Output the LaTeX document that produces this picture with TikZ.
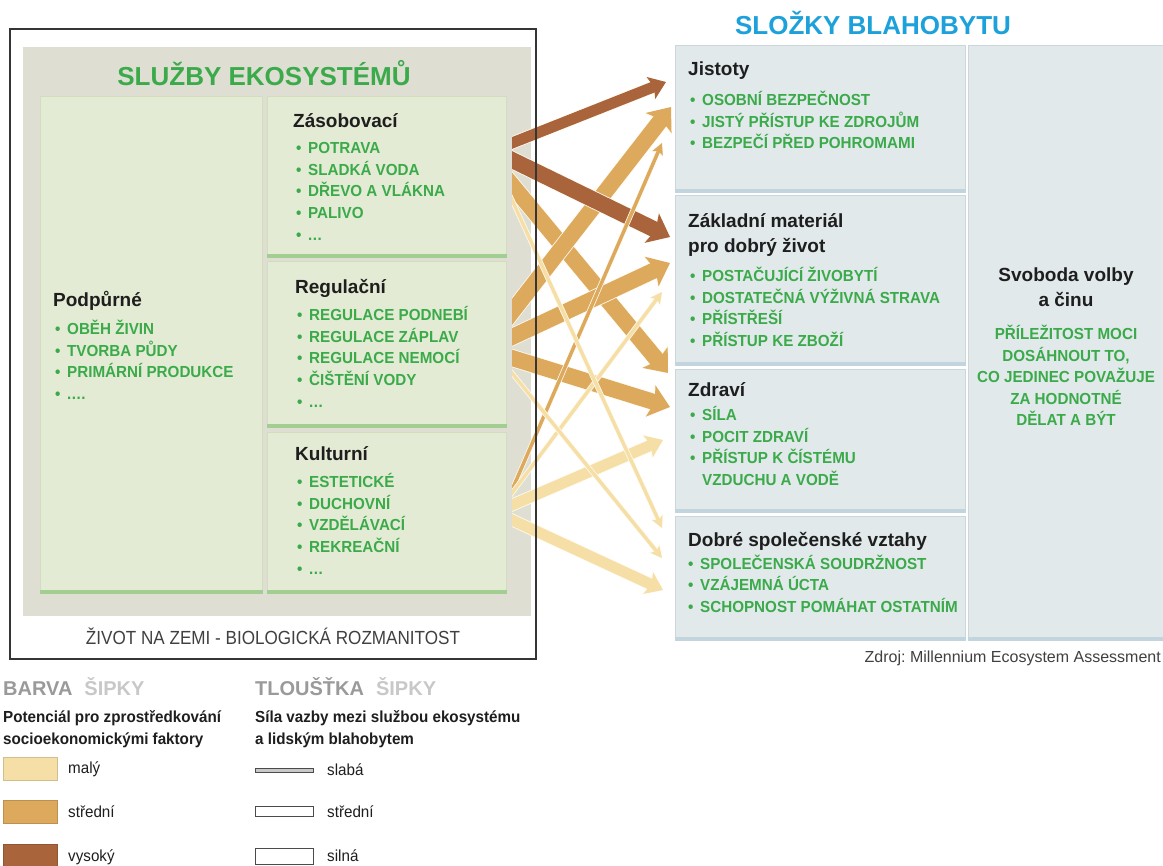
\documentclass[tikz,border=0pt]{standalone}
\usepackage{fontspec}
\setmainfont{Liberation Sans}
\newfontfamily\cnd[FakeStretch=0.95]{Liberation Sans}
\newfontfamily\cndn[FakeStretch=0.9]{Liberation Sans}
\usetikzlibrary{arrows.meta}
\definecolor{grn}{HTML}{3BAA4A}
\definecolor{blu}{HTML}{1DA1DB}
\definecolor{panelc}{HTML}{DFDED3}
\definecolor{lbox}{HTML}{E3EBD4}
\definecolor{lboxedge}{HTML}{D2DDBE}
\definecolor{lboxb}{HTML}{A2CE91}
\definecolor{rbox}{HTML}{E1E9EA}
\definecolor{rboxedge}{HTML}{CBD7DC}
\definecolor{rboxb}{HTML}{C2D4DD}
\definecolor{aLow}{HTML}{F5DFA6}
\definecolor{aMid}{HTML}{DDA95D}
\definecolor{aHigh}{HTML}{A9643B}
\definecolor{halo}{HTML}{FFFBF0}
\definecolor{txt}{HTML}{1E1E1E}
\definecolor{gA}{HTML}{9A9A9A}
\definecolor{gB}{HTML}{C8C8C8}
\frenchspacing
\newcommand\bul{\makebox[12pt][l]{\textbullet}}
\newcommand\tridot{.\kern0.5pt.\kern0.5pt.}
\newcommand\quadot{.\kern0.5pt.\kern0.5pt.\kern0.5pt.}
\newcommand\mylist[4]{\foreach \t [count=\i] in {#4} {\node[gitem] (#1-\i) at (#2,{#3+(\i-1)*21.6}) {\bul\t};}}
\begin{document}
\begin{tikzpicture}[x=1pt,y=-1pt,
  lboxst/.style={draw=lboxedge, line width=0.8pt, fill=lbox, anchor=north west, inner sep=0pt},
  rboxst/.style={draw=rboxedge, line width=0.8pt, fill=rbox, anchor=north west, inner sep=0pt},
  bigtitle/.style={font=\bfseries\fontsize{26}{30}\selectfont, inner sep=0pt},
  btitle/.style={anchor=west, inner sep=0pt, font=\bfseries\fontsize{19}{23}\selectfont, text=txt, text height=13.6pt, text depth=0pt},
  gitem/.style={anchor=west, inner sep=0pt, font=\cnd\bfseries\fontsize{16}{19}\selectfont, text=grn, text height=11.5pt, text depth=0pt},
  gcent/.style={gitem, anchor=center},
  legtxt/.style={anchor=west, inner sep=0pt, font=\cnd\fontsize{16}{19}\selectfont, text=txt, text height=11.5pt, text depth=0pt},
  legbold/.style={anchor=west, inner sep=0pt, font=\cnd\bfseries\fontsize{16}{19}\selectfont, text=txt, text height=11.5pt, text depth=0pt},
  swatch/.style={minimum width=54pt, minimum height=23pt, inner sep=0pt, draw=#1!85!black, line width=0.6pt, fill=#1},
  strong/.style={draw=#1, line width=16pt, shorten <=-16pt,
     preaction={draw=halo, line width=17.6pt, shorten <=-16pt, -{Stealth[length=21.5pt, width=35pt, inset=4pt]}},
     -{Stealth[length=20pt, width=32pt, inset=4pt]}},
  medium/.style={draw=#1, line width=11pt, shorten <=-16pt,
     preaction={draw=halo, line width=12.6pt, shorten <=-16pt, -{Stealth[length=17.5pt, width=26pt, inset=3pt]}},
     -{Stealth[length=16pt, width=23pt, inset=3pt]}},
  weak/.style={draw=#1, line width=3.5pt, shorten <=-16pt,
     preaction={draw=halo, line width=5pt, shorten <=-16pt, -{Stealth[length=12.5pt, width=14pt, inset=2pt]}},
     -{Stealth[length=11pt, width=11pt, inset=2pt]}}
]
\useasboundingbox (0,0) rectangle (1163,866);
\fill[white] (0,0) rectangle (1163,866);

% ---------- left panel ----------
\node[fill=panelc, anchor=north west, inner sep=0pt, minimum width=508pt, minimum height=569pt] (panel) at (23,47) {};
\node[bigtitle, text=grn] (t1) at (264,73) {SLUŽBY EKOSYSTÉMŮ};

\node[lboxst, minimum width=222pt, minimum height=497pt] (podp) at (40,96) {};
\node[lboxst, minimum width=239pt, minimum height=161pt] (zas) at (267,96) {};
\node[lboxst, minimum width=239pt, minimum height=166pt] (reg) at (267,261) {};
\node[lboxst, minimum width=239pt, minimum height=161pt] (kult) at (267,432) {};
\foreach \b in {podp,zas,reg,kult}{
  \draw[lboxb, line width=3.5pt] ([yshift=1.75pt]\b.south west) -- ([yshift=1.75pt]\b.south east);
}

\node[btitle] (podpT) at (53,300) {Podpůrné};
\mylist{podpL}{55}{329}{OBĚH ŽIVIN,TVORBA PŮDY,PRIMÁRNÍ PRODUKCE,\quadot}
\node[btitle] (zasT) at (293,121) {Zásobovací};
\mylist{zasL}{296}{148}{POTRAVA,SLADKÁ VODA,DŘEVO A VLÁKNA,PALIVO,\tridot}
\node[btitle] (regT) at (295,287) {Regulační};
\mylist{regL}{297}{315}{REGULACE PODNEBÍ,REGULACE ZÁPLAV,REGULACE NEMOCÍ,ČIŠTĚNÍ VODY,\tridot}
\node[btitle] (kultT) at (295,454) {Kulturní};
\mylist{kultL}{297}{482}{ESTETICKÉ,DUCHOVNÍ,VZDĚLÁVACÍ,REKREAČNÍ,\tridot}

\node[anchor=center, inner sep=0pt, font=\cndn\fontsize{19}{22}\selectfont, text=txt!85] (life) at (273,636) {ŽIVOT NA ZEMI - BIOLOGICKÁ ROZMANITOST};

% ---------- right side ----------
\node[bigtitle, text=blu] (t2) at (873,23) {SLOŽKY BLAHOBYTU};
\node[rboxst, minimum width=290pt, minimum height=147pt] (jist) at (675,45) {};
\node[rboxst, minimum width=290pt, minimum height=170pt] (zakl) at (675,195) {};
\node[rboxst, minimum width=290pt, minimum height=143pt] (zdr) at (675,369) {};
\node[rboxst, minimum width=290pt, minimum height=124pt] (dob) at (675,516) {};
\node[rboxst, minimum width=196pt, minimum height=595pt] (svob) at (968,45) {};
\foreach \b in {jist,zakl,zdr,dob,svob}{
  \draw[rboxb, line width=4pt] ([yshift=2pt]\b.south west) -- ([yshift=2pt]\b.south east);
}

\node[btitle] (jistT) at (688,68.5) {Jistoty};
\mylist{jistL}{690}{100}{OSOBNÍ BEZPEČNOST,JISTÝ PŘÍSTUP KE ZDROJŮM,BEZPEČÍ PŘED POHROMAMI}
\node[btitle] (zaklT) at (688,220.5) {Základní materiál};
\node[btitle] (zaklT2) at (688,246) {pro dobrý život};
\mylist{zaklL}{690}{276}{POSTAČUJÍCÍ ŽIVOBYTÍ,DOSTATEČNÁ VÝŽIVNÁ STRAVA,PŘÍSTŘEŠÍ,PŘÍSTUP KE ZBOŽÍ}
\node[btitle] (zdrT) at (688,389.5) {Zdraví};
\mylist{zdrL}{690}{415}{SÍLA,POCIT ZDRAVÍ,PŘÍSTUP K ČÍSTÉMU}
\node[gitem] (zdrL-4) at (702,479.8) {VZDUCHU A VODĚ};
\node[btitle] (dobT) at (688,540) {Dobré společenské vztahy};
\mylist{dobL}{688}{563.5}{SPOLEČENSKÁ SOUDRŽNOST,VZÁJEMNÁ ÚCTA,SCHOPNOST POMÁHAT OSTATNÍM}

\node[btitle, anchor=center] (svobT) at (1066,274.5) {Svoboda volby};
\node[btitle, anchor=center] (svobT2) at (1066,300) {a činu};
\node[gcent] (svob1) at (1066,334) {PŘÍLEŽITOST MOCI};
\node[gcent] (svob2) at (1066,355.5) {DOSÁHNOUT TO,};
\node[gcent] (svob3) at (1066,377) {CO JEDINEC POVAŽUJE};
\node[gcent] (svob4) at (1066,398.5) {ZA HODNOTNÉ};
\node[gcent] (svob5) at (1066,420) {DĚLAT A BÝT};

\node[anchor=east, inner sep=0pt, font=\fontsize{16}{19}\selectfont, text=txt!85, text height=11.8pt, text depth=0pt] (src) at (1161,657) {Zdroj: Millennium Ecosystem Assessment};

% ---------- arrows ----------
\coordinate (s1) at (512,143);  \coordinate (e1) at (666,82);
\coordinate (s2) at (512,160);  \coordinate (e2) at (670,237);
\coordinate (s3) at (512,185);  \coordinate (e3) at (668,373);
\coordinate (s4) at (512,200);  \coordinate (e4) at (662,528);
\coordinate (s5) at (512,312);  \coordinate (e5) at (671,107);
\coordinate (s6) at (512,337);  \coordinate (e6) at (670,263);
\coordinate (s7) at (512,358);  \coordinate (e7) at (670,407);
\coordinate (s8) at (512,373);  \coordinate (e8) at (662,558);
\coordinate (s9) at (512,490);  \coordinate (e9) at (662,143);
\coordinate (s10) at (512,493); \coordinate (e10) at (662,292);
\coordinate (s11) at (512,505); \coordinate (e11) at (663,440);
\coordinate (s12) at (512,520); \coordinate (e12) at (663,590);

\begin{scope}
\clip (512,0) rectangle (1163,866);
\draw[strong=aMid] (s3) -- (e3);
\draw[strong=aMid] (s5) -- (e5);
\draw[strong=aMid] (s6) -- (e6);
\draw[strong=aMid] (s7) -- (e7);
\draw[medium=aHigh] (s1) -- (e1);
\draw[strong=aHigh] (s2) -- (e2);
\draw[medium=aLow] (s11) -- (e11);
\draw[medium=aLow] (s12) -- (e12);
\draw[weak=aMid] (s9) -- (e9);
\draw[weak=aLow] (s10) -- (e10);
\draw[weak=aLow] (s4) -- (e4);
\draw[weak=aLow] (s8) -- (e8);
\end{scope}

% outer frame on top
\node[draw=txt!90, line width=1.6pt, anchor=north west, inner sep=0pt, minimum width=526pt, minimum height=630pt] (frame) at (9,28) {};

% ---------- legend ----------
\node[anchor=west, inner sep=0pt, font=\bfseries\fontsize{20}{24}\selectfont, text height=14.3pt, text depth=0pt] (legA) at (3,688) {\textcolor{gA}{BARVA}\hspace{12pt}\textcolor{gB}{ŠIPKY}};
\node[anchor=west, inner sep=0pt, font=\bfseries\fontsize{20}{24}\selectfont, text height=14.3pt, text depth=0pt] (legB) at (255,688) {\textcolor{gA}{TLOUŠŤKA}\hspace{12pt}\textcolor{gB}{ŠIPKY}};
\node[legbold] (legA1) at (3,717) {Potenciál pro zprostředkování};
\node[legbold] (legA2) at (3,739) {socioekonomickými faktory};
\node[legbold] (legB1) at (255,717) {Síla vazby mezi službou ekosystému};
\node[legbold] (legB2) at (255,739) {a lidským blahobytem};

\node[swatch=aLow] (sw1) at (30,768.5) {};
\node[swatch=aMid] (sw2) at (30,812) {};
\node[swatch=aHigh] (sw3) at (30,855.5) {};
\node[legtxt] (sw1t) at (68,768) {malý};
\node[legtxt] (sw2t) at (68,812) {střední};
\node[legtxt] (sw3t) at (68,856) {vysoký};

\node[draw=txt!80, line width=0.9pt, fill=gB, minimum width=58pt, minimum height=4pt, inner sep=0pt] (th1) at (284,770) {};
\node[draw=txt!80, line width=1pt, fill=white, minimum width=58pt, minimum height=10pt, inner sep=0pt] (th2) at (284,811) {};
\node[draw=txt!80, line width=1pt, fill=white, minimum width=58pt, minimum height=16pt, inner sep=0pt] (th3) at (284,856) {};
\node[legtxt] (th1t) at (327,770) {slabá};
\node[legtxt] (th2t) at (327,812) {střední};
\node[legtxt] (th3t) at (327,856) {silná};
\end{tikzpicture}
\end{document}
